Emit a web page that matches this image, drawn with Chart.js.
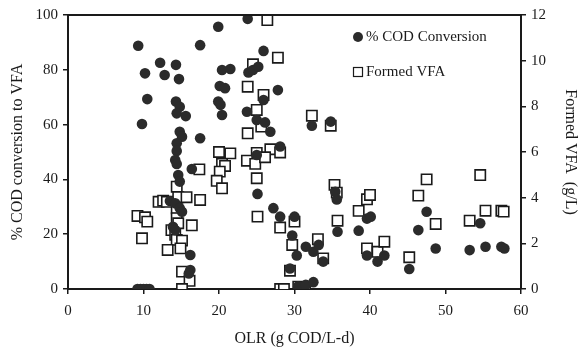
<!DOCTYPE html>
<html>
<head>
<meta charset="utf-8">
<script src="https://cdn.jsdelivr.net/npm/chart.js@4.4.1/dist/chart.umd.min.js"></script>
<style>
  html, body { margin: 0; padding: 0; background: #fff; }
  #wrap { width: 583px; height: 353px; }
</style>
</head>
<body>
<div id="wrap"><canvas id="grafico"></canvas></div>
<script>
// % COD conversion (left axis)
const codX = [9.3, 17.5, 19.9, 12.2, 14.3, 10.2, 12.8, 14.7, 10.5, 14.3, 14.8, 14.4, 15.6, 20.1, 20.8, 19.9, 20.2, 20.4,
  9.8, 14.8, 15.1, 17.5, 14.4, 14.4, 14.2, 14.4, 16.4, 14.6, 14.8, 13.5, 14.2, 14.8, 15.1, 13.9, 14.2, 16.2, 16.2, 16.0,
  9.2, 9.6, 10.0, 10.4, 10.8, 23.8, 25.9, 20.4, 21.5, 23.9, 24.5, 25.2, 27.8, 23.7, 25.9, 25.0, 26.1, 26.8, 32.3, 34.8,
  28.1, 25.0, 25.1, 27.2, 28.1, 30.0, 35.4, 35.6, 35.7, 38.5, 29.7, 31.5, 30.3, 32.5, 33.2, 33.8, 29.4, 30.5, 31.5, 32.5,
  39.6, 40.1, 39.6, 41.0, 41.9, 45.2, 46.4, 47.5, 48.7, 53.2, 54.6, 55.3, 57.4, 57.8];
const codY = [88.8, 89, 95.7, 82.6, 81.8, 78.7, 78.1, 76.6, 69.3, 68.4, 66.5, 64.1, 63.1, 74.1, 73.3, 68.4, 67.2, 63.5,
  60.2, 57.4, 55.6, 55, 53.2, 50.4, 47.1, 45.6, 43.8, 41.6, 39.2, 32.1, 31.3, 29.5, 28.2, 22.7, 21.5, 12.4, 6.9, 5.7,
  0, 0, 0, 0, 0, 98.6, 86.9, 79.9, 80.3, 79, 79.9, 81.1, 72.6, 64.7, 69, 61.7, 60.8, 57.4, 59.6, 61.1,
  52, 48.9, 34.7, 29.5, 26.4, 26.4, 35.5, 32.7, 20.9, 21.3, 19.5, 15.4, 12.2, 13.6, 16.1, 10, 7.5, 1, 1.5, 2.5,
  25.7, 26.4, 12.2, 10, 12.2, 7.3, 21.5, 28.2, 14.8, 14.2, 24, 15.4, 15.4, 14.8];

// Formed VFA g/L (right axis)
const vfaX = [20.0, 21.5, 17.4, 20.4, 20.8, 20.1, 19.7, 20.4, 14.4, 12.0, 12.6, 13.1, 14.6, 15.7, 17.5, 14.4, 14.4, 14.6,
  9.2, 10.2, 10.5, 16.4, 13.7, 14.2, 9.8, 14.4, 15.1, 14.9, 13.2, 15.1, 16.1, 15.1,
  26.4, 27.8, 24.5, 23.8, 25.9, 25.0, 25.6, 23.8, 32.3, 34.8, 25.0, 26.8, 28.1, 23.7, 24.8, 26.1, 25.0, 25.1,
  28.1, 30.0, 29.7, 33.1, 33.8, 29.4, 35.3, 35.6, 35.7, 38.5, 28.1, 28.6, 30.5, 31.4,
  39.6, 40.0, 39.6, 41.0, 41.9, 45.2, 46.4, 47.5, 48.7, 53.2, 54.6, 55.3, 57.4, 57.7];
const vfaY = [6.0, 5.94, 5.24, 5.48, 5.39, 5.14, 4.74, 4.41, 4.48, 3.82, 3.87, 3.82, 4.02, 4.02, 3.9, 3.53, 3.10, 2.88,
  3.2, 3.14, 2.95, 2.79, 2.58, 2.37, 2.22, 2.15, 2.12, 1.78, 1.71, 0.76, 0.36, 0,
  11.78, 10.13, 9.84, 8.86, 8.5, 7.84, 7.11, 6.82, 7.59, 7.15, 5.96, 6.12, 5.98, 5.62, 5.48, 5.77, 4.85, 3.17,
  2.69, 2.95, 1.93, 2.18, 1.34, 0.8, 4.56, 4.22, 2.99, 3.42, 0, 0, 0.1, 0.05,
  3.93, 4.12, 1.78, 1.63, 2.07, 1.39, 4.09, 4.8, 2.85, 2.99, 4.99, 3.43, 3.43, 3.39];

const xTicks = [0, 10, 20, 30, 40, 50, 60];
const leftTicks = [0, 20, 40, 60, 80, 100];
const rightTicks = [0, 2, 4, 6, 8, 10, 12];

const serie1 = "% COD Conversion";
const serie2 = "Formed VFA";

const fuente = "'Liberation Serif', 'DejaVu Serif', serif";
const negro = '#1a1a1a';
const gris = '#2b2b2b';

const puntosCod = codX.map((x, i) => ({ x: x, y: codY[i] }));
const puntosVfa = vfaX.map((x, i) => ({ x: x, y: vfaY[i] }));

// marco superior y leyenda dentro del grafico
const marcoLeyenda = {
  id: 'marcoLeyenda',
  afterDraw(chart) {
    const { ctx, chartArea } = chart;
    ctx.save();
    ctx.strokeStyle = negro;
    ctx.lineWidth = 2;
    ctx.beginPath();
    ctx.moveTo(chartArea.left, chartArea.top);
    ctx.lineTo(chartArea.right, chartArea.top);
    ctx.stroke();

    ctx.font = "15px " + fuente;
    ctx.textBaseline = 'middle';
    // circulo
    ctx.beginPath();
    ctx.arc(358, 37, 5, 0, Math.PI * 2);
    ctx.fillStyle = gris;
    ctx.fill();
    ctx.fillStyle = negro;
    ctx.fillText(serie1, 366, 37);
    // cuadrado
    ctx.lineWidth = 1.2;
    ctx.strokeRect(353.5, 67.5, 9, 9);
    ctx.fillText(serie2, 366, 72);
    ctx.restore();
  }
};

const ctx = document.getElementById('grafico').getContext('2d');
new Chart(ctx, {
  type: 'scatter',
  data: {
    datasets: [
      {
        label: serie1,
        data: puntosCod,
        yAxisID: 'y',
        pointStyle: 'circle',
        pointRadius: 5.3,
        pointBackgroundColor: gris,
        pointBorderColor: gris,
        pointBorderWidth: 0,
        order: 0
      },
      {
        label: serie2,
        data: puntosVfa,
        yAxisID: 'y2',
        pointStyle: 'rect',
        pointRadius: 7.3,
        pointBackgroundColor: '#ffffff',
        pointBorderColor: negro,
        pointBorderWidth: 1.6,
        order: 1
      }
    ]
  },
  options: {
    responsive: true,
    maintainAspectRatio: false,
    animation: false,
    devicePixelRatio: 1,
    layout: { padding: { top: 15, left: 0, right: 0, bottom: 0 } },
    plugins: { legend: { display: false }, tooltip: { enabled: false } },
    scales: {
      x: {
        type: 'linear', min: 0, max: 60,
        afterBuildTicks: s => { s.ticks = xTicks.map(v => ({ value: v })); },
        afterFit: s => { s.height = 64; },
        border: { display: true, color: negro, width: 2 },
        grid: { drawOnChartArea: false, drawTicks: true, tickLength: 5, color: negro, lineWidth: 1.5 },
        ticks: { color: negro, font: { family: fuente, size: 15 }, padding: 8, maxRotation: 0 },
        title: { display: true, text: 'OLR (g COD/L-d)', color: negro, font: { family: fuente, size: 16 }, padding: { top: 0, bottom: 5 } }
      },
      y: {
        type: 'linear', position: 'left', min: 0, max: 100,
        afterBuildTicks: s => { s.ticks = leftTicks.map(v => ({ value: v })); },
        afterFit: s => { s.width = 68; },
        border: { display: true, color: negro, width: 2 },
        grid: { drawOnChartArea: false, drawTicks: true, tickLength: 5, color: negro, lineWidth: 1.5 },
        ticks: { color: negro, font: { family: fuente, size: 15 }, padding: 5 },
        title: { display: true, text: '% COD conversion to VFA', color: negro, font: { family: fuente, size: 16 }, padding: { top: 8, bottom: 0 } }
      },
      y2: {
        type: 'linear', position: 'right', min: 0, max: 12,
        afterBuildTicks: s => { s.ticks = rightTicks.map(v => ({ value: v })); },
        afterFit: s => { s.width = 62; },
        border: { display: true, color: negro, width: 2 },
        grid: { drawOnChartArea: false, drawTicks: true, tickLength: 5, color: negro, lineWidth: 1.5 },
        ticks: { color: negro, font: { family: fuente, size: 15 }, padding: 5 },
        title: { display: true, text: 'Formed VFA  (g/L)', color: negro, font: { family: fuente, size: 16 }, padding: { top: 3, bottom: 0 } }
      }
    }
  },
  plugins: [marcoLeyenda]
});
</script>
</body>
</html>
